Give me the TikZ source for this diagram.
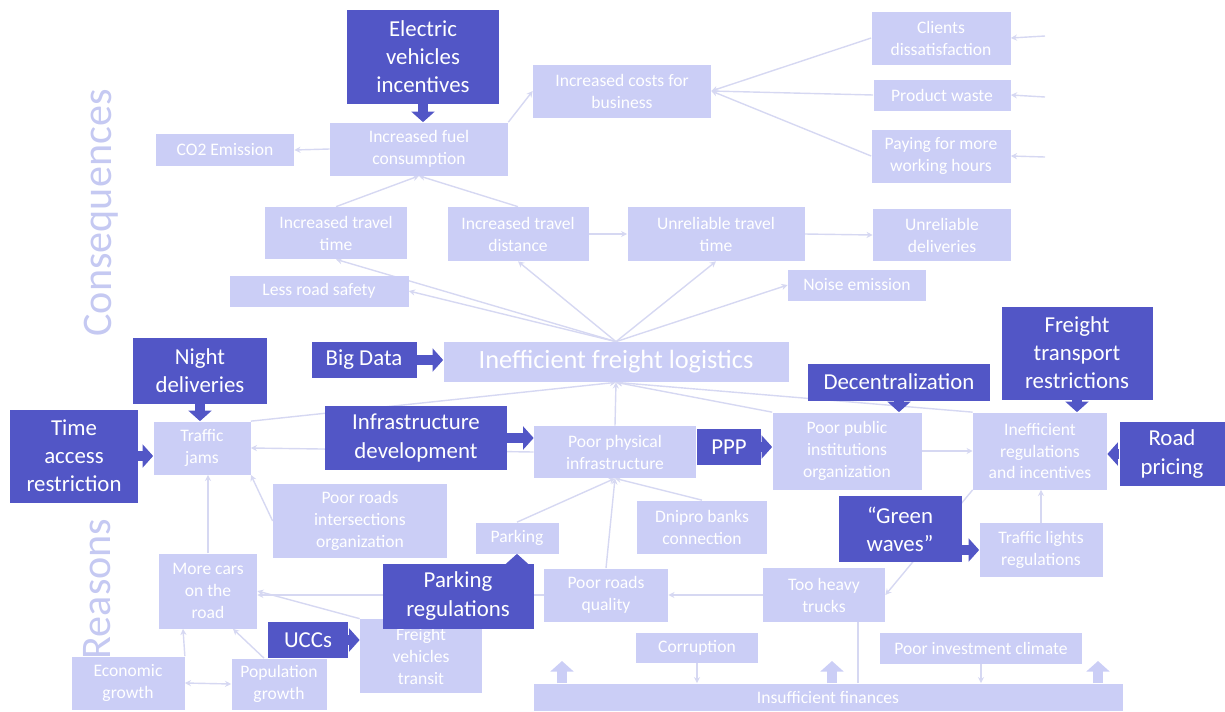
\documentclass[tikz,border=0pt]{standalone}
\usepackage{fontspec}
\setmainfont{Carlito}
\usetikzlibrary{arrows.meta, backgrounds}
\definecolor{dk}{HTML}{5256C6}
\definecolor{lt}{HTML}{CBCEF6}
\definecolor{wire}{HTML}{D6D8F2}
\definecolor{sidec}{HTML}{C5C9F2}
\newdimen\pxu \pxu=0.02cm
\tikzset{
  sz/.style 2 args={minimum width=#1\pxu, minimum height=#2\pxu},
  lbox/.style={fill=lt, draw=none, align=center, inner sep=1pt, text=white,
               font=\fontsize{10}{12.5}\selectfont},
  dbox/.style={fill=dk, draw=none, align=center, inner sep=1pt, text=white,
               font=\fontsize{13}{16}\selectfont},
  wire0/.style={line width=0.8pt, draw=wire},
  ln/.style={wire0, -{Stealth[length=3.5pt, width=3.5pt]}},
  fat/.style={-{Triangle[length=6pt, width=13pt]}, line width=5.5pt, draw=dk},
  lfat/.style={fat, draw=lt},
  sidelbl/.style={rotate=90, text=sidec, font=\fontsize{24}{28}\selectfont},
}

\begin{document}
\begin{tikzpicture}[x=0.02cm, y=-0.02cm]
  \useasboundingbox (0,0) rectangle (1225,711);

  \node[sidelbl] (conslbl) at (101,213) {Consequences};
  \node[sidelbl] (reaslbl) at (97,589) {Reasons};

  % consequences
  \node[lbox, sz={178}{53}] (costs) at (622,91) {Increased costs for\\business};
  \node[lbox, sz={139}{53}] (clients) at (941,38) {Clients\\dissatisfaction};
  \node[lbox, sz={137}{31}] (waste) at (942,95) {Product waste};
  \node[lbox, sz={139}{53}] (paying) at (941,156) {Paying for more\\working hours};
  \node[lbox, sz={138}{32}] (co2) at (225,150) {CO2 Emission};
  \node[lbox, sz={178}{53}] (fuel) at (419,149) {Increased fuel\\consumption};
  \node[lbox, sz={142}{52}] (ttime) at (336,233) {Increased travel\\time};
  \node[lbox, sz={141}{54}] (tdist) at (518,234) {Increased travel\\distance};
  \node[lbox, sz={177}{54}] (unrel) at (716,234) {Unreliable travel\\time};
  \node[lbox, sz={138}{52}] (udel) at (942,235) {Unreliable\\deliveries};
  \node[lbox, sz={179}{31}] (safety) at (319,291) {Less road safety};
  \node[lbox, sz={138}{31}] (noise) at (857,285) {Noise emission};
  \node[lbox, sz={345}{40}, font=\fontsize{15}{18}\selectfont] (ifl) at (616,362)
    {Inefficient freight logistics};
  \coordinate (cl1) at (1045,36);
  \coordinate (cl2) at (1045,97);
  \coordinate (cl3) at (1045,157);

  % reasons
  \node[lbox, sz={97}{53}] (traffic) at (202,448) {Traffic\\jams};
  \node[lbox, sz={162}{52}] (phys) at (615,452) {Poor physical\\infrastructure};
  \node[lbox, sz={149}{77}] (pub) at (847,451) {Poor public\\institutions\\organization};
  \node[lbox, sz={134}{77}] (regs) at (1040,451) {Inefficient\\regulations\\and incentives};
  \node[lbox, sz={174}{74}] (inter) at (360,521) {Poor roads\\intersections\\organization};
  \node[lbox, sz={83}{31}] (parking) at (517,538) {Parking};
  \node[lbox, sz={130}{53}] (dnipro) at (702,527) {Dnipro banks\\connection};
  \node[lbox, sz={123}{54}] (lights) at (1041,550) {Traffic lights\\regulations};
  \node[lbox, sz={98}{75}] (cars) at (208,591) {More cars\\on the\\road};
  \node[lbox, sz={124}{53}] (quality) at (606,595) {Poor roads\\quality};
  \node[lbox, sz={122}{54}] (heavy) at (824,595) {Too heavy\\trucks};
  \node[lbox, sz={122}{74}] (transit) at (421,656) {Freight\\vehicles\\transit};
  \node[lbox, sz={113}{53}] (econ) at (128,683) {Economic\\growth};
  \node[lbox, sz={95}{51}] (pop) at (279,684) {Population\\growth};
  \node[lbox, sz={122}{30}] (corr) at (697,648) {Corruption};
  \node[lbox, sz={202}{31}] (invest) at (981,648) {Poor investment climate};
  \node[lbox, sz={589}{27}] (fin) at (828,697) {Insufficient finances};
  \coordinate (up1) at (562,661);
  \coordinate (up2) at (832,661);
  \coordinate (up3) at (1098,661);

  % measures
  \node[dbox, sz={152}{94}] (ev) at (423,57) {Electric\\vehicles\\incentives};
  \node[dbox, sz={105}{36}] (bigdata) at (364,360) {Big Data};
  \node[dbox, sz={134}{66}] (night) at (200,371) {Night\\deliveries};
  \node[dbox, sz={128}{93}] (time) at (74,456) {Time\\access\\restriction};
  \node[dbox, sz={182}{64}] (infra) at (416,438) {Infrastructure\\development};
  \node[dbox, sz={64}{36}] (ppp) at (729,447) {PPP};
  \node[dbox, sz={182}{37}] (decent) at (899,382) {Decentralization};
  \node[dbox, sz={151}{93}] (frt) at (1077,353) {Freight\\transport\\restrictions};
  \node[dbox, sz={105}{64}] (road) at (1172,454) {Road\\pricing};
  \node[dbox, sz={123}{66}] (green) at (900,529) {“Green\\waves”};
  \node[dbox, sz={151}{65}] (parkreg) at (458,596) {Parking\\regulations};
  \node[dbox, sz={80}{36}] (uccs) at (308,640) {UCCs};

  \begin{scope}[on background layer]
    \draw[ln] (fuel.west) -- (co2.east);
    \draw[ln] (fuel.north east) -- (costs.west);
    \draw[ln] (clients.west) -- (costs.east);
    \draw[ln] (waste.west) -- (costs.east);
    \draw[ln] (paying.west) -- (costs.east);
    \draw[ln] (cl1) -- (clients.east);
    \draw[ln] (cl2) -- (waste.east);
    \draw[ln] (cl3) -- (paying.east);
    \draw[ln] (ttime.north) -- (fuel.south);
    \draw[ln] (tdist.north) -- (fuel.south);
    \draw[ln] (tdist.east) -- (unrel.west);
    \draw[ln] (unrel.east) -- (udel.west);
    \draw[ln] (ifl.north) -- (ttime.south);
    \draw[ln] (ifl.north) -- (safety.east);
    \draw[ln] (ifl.north) -- (tdist.south);
    \draw[ln] (ifl.north) -- (unrel.south);
    \draw[ln] (ifl.north) -- (noise.west);

    \draw[ln] (phys.north) -- (ifl.south);
    \draw[ln] (traffic.north east) -- (ifl.south);
    \draw[ln] (pub.north west) -- (ifl.south);
    \draw[ln] (regs.north west) -- (ifl.south);
    \draw[ln] (phys.west) -- (traffic.east);
    \draw[ln] (inter.west) -- (traffic.south east);
    \draw[ln] (cars.north) -- (cars.north |- traffic.south);
    \draw[ln] (quality.west) -- (quality.west -| cars.east);
    \draw[ln] (transit.north west) -- (cars.east);
    \draw[ln] (econ.north east) -- ([xshift=-25\pxu]cars.south);
    \draw[ln] ([xshift=-15\pxu]pop.north) -- ([xshift=25\pxu]cars.south);
    \draw[wire0, {Stealth[length=3.5pt, width=3.5pt]}-{Stealth[length=3.5pt, width=3.5pt]}]
      (econ.east) -- (pop.west);
    \draw[ln] (parking.north) -- (phys.south);
    \draw[ln] (quality.north) -- (phys.south);
    \draw[ln] (dnipro.north) -- (phys.south);
    \draw[ln] (heavy.west) -- (quality.east);
    \draw[ln] (pub.east) -- (regs.west);
    \draw[ln] (lights.north) -- (lights.north |- regs.south);
    \draw[ln] (regs.south west) -- (heavy.east);
    \draw[wire0] ([xshift=34\pxu]heavy.south) -- ([xshift=34\pxu]heavy.south |- fin.north);
    \draw[ln] (corr.south) -- (corr.south |- fin.north);
    \draw[ln] (invest.south) -- (invest.south |- fin.north);
  \end{scope}

  \draw[fat] (ev.south) -- (ev.south |- fuel.north);
  \draw[fat] (bigdata.east) -- (bigdata.east -| ifl.west);
  \draw[fat] (night.south) -- (night.south |- traffic.north);
  \draw[fat] (time.east) -- (time.east -| traffic.west);
  \draw[fat] (infra.east) -- (infra.east -| phys.west);
  \draw[fat] (ppp.east) -- (ppp.east -| pub.west);
  \draw[fat] (decent.south) -- (decent.south |- pub.north);
  \draw[fat] (frt.south) -- (frt.south |- regs.north);
  \draw[fat] (road.west) -- (road.west -| regs.east);
  \draw[fat] (green.east |- lights) -- (lights.west);
  \draw[fat] (parkreg.north -| parking.south) -- (parking.south);
  \draw[fat] (uccs.east) -- (uccs.east -| transit.west);
  \draw[lfat] (up1 |- fin.north) -- (up1);
  \draw[lfat] (up2 |- fin.north) -- (up2);
  \draw[lfat] (up3 |- fin.north) -- (up3);
\end{tikzpicture}
\end{document}
